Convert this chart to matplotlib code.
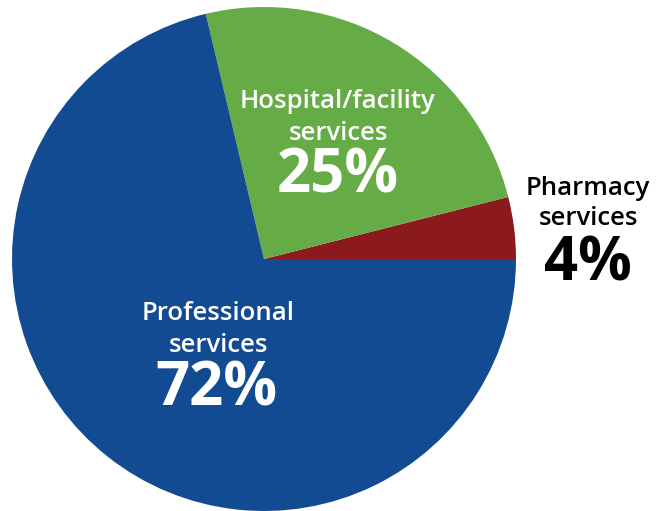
import matplotlib
matplotlib.use('Agg')
import matplotlib.pyplot as plt

categories = ['Pharmacy\nservices', 'Hospital/facility\nservices', 'Professional\nservices']
shares = [4, 25, 72]
colors = ['#8C1A1C', '#66AC46', '#134B93']
text_colors = ['black', 'white', 'white']

# label placement in reference pixel coords: centre x, baselines of the
# two label lines and of the percentage
label_x = [588, 338, 218]
label_base = [(195, 225), (108, 140), (320, 352)]
pct_x = [588, 338, 216]
pct_base = [280, 192, 405]

W, H = 656, 511
cx, cy, r = 264, 259, 252

plt.rcParams['font.family'] = ['Open Sans', 'DejaVu Sans']

fig = plt.figure(figsize=(W / 100, H / 100), dpi=100)
ax = fig.add_axes([(cx - r) / W, (H - cy - r) / H, 2 * r / W, 2 * r / H])
ax.pie(shares, colors=colors, startangle=0, counterclock=True, radius=1,
       wedgeprops=dict(linewidth=0))
ax.set_xlim(-1, 1)
ax.set_ylim(-1, 1)
ax.set_aspect('equal')
ax.axis('off')


def to_data(px, py):
    return (px - cx) / r, (cy - py) / r


for i, (cat, val) in enumerate(zip(categories, shares)):
    tc = text_colors[i]
    for line, base in zip(cat.split('\n'), label_base[i]):
        x, y = to_data(label_x[i], base)
        ax.text(x, y, line, color=tc, fontsize=18.5, fontweight='semibold',
                ha='center', va='baseline', clip_on=False)
    x, y = to_data(pct_x[i], pct_base[i])
    ax.text(x, y, f'{val}%', color=tc, fontsize=43, fontweight='bold',
            ha='center', va='baseline', clip_on=False)

fig.savefig('out.png', dpi=100)
